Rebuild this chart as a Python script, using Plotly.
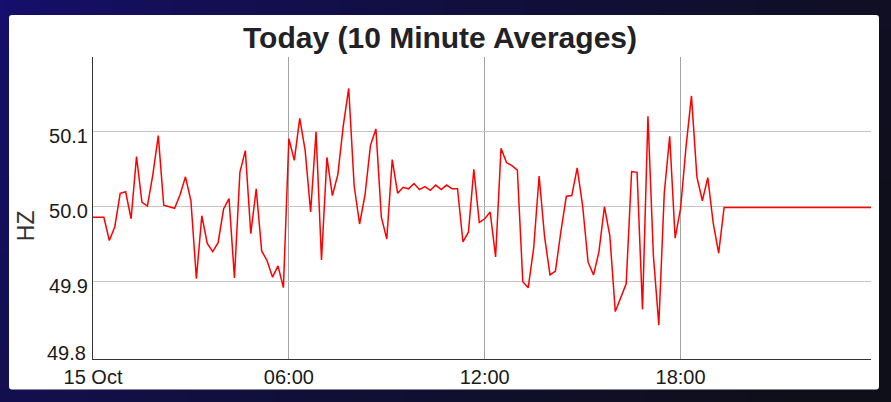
import plotly.graph_objects as go
import pandas as pd

# ---- data (10-minute averages, 15 Oct) ----
start_time = "2023-10-15 00:00"
n_points = 144
hz_values = [
    49.986, 49.986, 49.986, 49.955, 49.973, 50.018, 50.020, 49.984, 50.067, 50.006,
    50.001, 50.043, 50.095, 50.002, 50.000, 49.998, 50.016, 50.040, 50.008, 49.904,
    49.988, 49.951, 49.940, 49.952, 49.997, 50.011, 49.905, 50.046, 50.075, 49.964,
    50.024, 49.941, 49.928, 49.906, 49.921, 49.892, 50.091, 50.062, 50.118, 50.075,
    49.993, 50.100, 49.929, 50.066, 50.015, 50.043, 50.108, 50.158, 50.028, 49.977,
    50.016, 50.082, 50.104, 49.986, 49.957, 50.063, 50.018, 50.026, 50.024, 50.031,
    50.023, 50.027, 50.022, 50.029, 50.023, 50.029, 50.024, 50.024, 49.953, 49.966,
    50.050, 49.979, 49.984, 49.993, 49.933, 50.078, 50.059, 50.055, 50.049, 49.900,
    49.892, 49.945, 50.041, 49.960, 49.909, 49.914, 49.967, 50.014, 50.015, 50.052,
    50.001, 49.926, 49.909, 49.940, 50.000, 49.961, 49.860, 49.878, 49.897, 50.047,
    50.046, 49.863, 50.121, 49.935, 49.842, 50.018, 50.094, 49.958, 49.998, 50.080,
    50.148, 50.040, 50.008, 50.039, 49.978, 49.938, 49.999, 49.999, 49.999, 49.999,
    49.999, 49.999, 49.999, 49.999, 49.999, 49.999, 49.999, 49.999, 49.999, 49.999,
    49.999, 49.999, 49.999, 49.999, 49.999, 49.999, 49.999, 49.999, 49.999, 49.999,
    49.999, 49.999, 49.999, 49.999,
]
x_tick_times = ["2023-10-15 00:00", "2023-10-15 06:00", "2023-10-15 12:00", "2023-10-15 18:00"]
x_tick_labels = ["15 Oct", "06:00", "12:00", "18:00"]
y_tick_values = [49.9, 50.0, 50.1]
y_tick_labels = ["49.9", "50.0", "50.1"]
y_bottom_label = "49.8"
title_text = "Today (10 Minute Averages)"
y_title = "HZ"

times = pd.date_range(start_time, periods=n_points, freq="10min")

# ---- layout geometry (pixels) ----
W, H = 891, 402
ML, MR, MT, MB = 93, 20, 57, 43
PW = W - ML - MR
PH = H - MT - MB


def px_x(px):
    return (px - ML) / PW


def px_y(py):
    return (H - MB - py) / PH


FONT = "Liberation Sans, Arial, sans-serif"

fig = go.Figure()
fig.add_trace(go.Scatter(
    x=times, y=hz_values, mode="lines",
    line=dict(color="#ff0000", width=1.5),
    hoverinfo="x+y", showlegend=False,
))

# ---- gradient background built from strips ----
C0 = (21, 15, 112)
C1 = (15, 15, 26)


def grad_color(px, py):
    s = 0.85 * px / W + 0.25 * py / H
    s = max(0.0, min(1.0, s)) ** 0.7
    r = C0[0] + (C1[0] - C0[0]) * s
    g = C0[1] + (C1[1] - C0[1]) * s
    b = C0[2] + (C1[2] - C0[2]) * s
    return "rgb(%d,%d,%d)" % (round(r), round(g), round(b))


shapes = []


def add_rect(x0, y0, x1, y1, color):
    shapes.append(dict(
        type="rect", xref="paper", yref="paper", layer="below",
        x0=px_x(x0), x1=px_x(x1), y0=px_y(y1), y1=px_y(y0),
        fillcolor=color, line=dict(width=0),
    ))


step = 6
for xs in range(-2, W + 2, step):
    add_rect(xs, -2, xs + step + 0.8, 17, grad_color(xs + step / 2, 7))
    add_rect(xs, 387, xs + step + 0.8, H + 2, grad_color(xs + step / 2, 396))
vstep = 15
for ys in range(14, 392, vstep):
    add_rect(-2, ys, 11, ys + vstep + 0.8, grad_color(4, ys + vstep / 2))
    add_rect(877, ys, W + 2, ys + vstep + 0.8, grad_color(885, ys + vstep / 2))

# ---- white rounded card ----
cx0, cx1, cy0, cy1, r = 9, 879, 15, 389.5, 3


def P(px, py):
    return "%.6f,%.6f" % (px_x(px), px_y(py))


card_path = (
    "M " + P(cx0 + r, cy0) + " L " + P(cx1 - r, cy0) +
    " Q " + P(cx1, cy0) + " " + P(cx1, cy0 + r) +
    " L " + P(cx1, cy1 - r) +
    " Q " + P(cx1, cy1) + " " + P(cx1 - r, cy1) +
    " L " + P(cx0 + r, cy1) +
    " Q " + P(cx0, cy1) + " " + P(cx0, cy1 - r) +
    " L " + P(cx0, cy0 + r) +
    " Q " + P(cx0, cy0) + " " + P(cx0 + r, cy0) + " Z"
)
shapes.append(dict(type="path", xref="paper", yref="paper", layer="below",
                   path=card_path, fillcolor="#ffffff", line=dict(width=0)))

annotations = [
    dict(text=y_bottom_label, xref="paper", yref="paper",
         x=px_x(87.5), y=px_y(352.7), xanchor="right", yanchor="middle",
         showarrow=False, font=dict(family=FONT, size=20, color="#1a1a1a")),
    dict(text=y_title, xref="paper", yref="paper",
         x=px_x(26.2), y=px_y(226), xanchor="center", yanchor="middle",
         textangle=-90, showarrow=False,
         font=dict(family=FONT, size=23, color="#333333")),
]

fig.update_layout(
    width=W, height=H,
    margin=dict(l=ML, r=MR, t=MT, b=MB, pad=0),
    paper_bgcolor="rgb(17,15,60)",
    plot_bgcolor="rgba(0,0,0,0)",
    shapes=shapes,
    annotations=annotations,
    title=dict(text=title_text, x=440 / W, xref="container", xanchor="center",
               y=1 - 37 / H, yref="container", yanchor="middle",
               font=dict(family=FONT, size=30, color="#222226", weight="bold")),
    xaxis=dict(
        type="date",
        range=[times[0], times[-1]],
        tickvals=x_tick_times, ticktext=x_tick_labels,
        showgrid=True, gridcolor="#a3a3a3", gridwidth=1,
        showline=True, linecolor="#333333", linewidth=1,
        ticks="", zeroline=False,
        tickfont=dict(family=FONT, size=20, color="#1a1a1a"),
    ),
    yaxis=dict(
        range=[49.7967, 50.2],
        tickvals=y_tick_values, ticktext=y_tick_labels,
        showgrid=True, gridcolor="#c6c6c6", gridwidth=1,
        showline=True, linecolor="#333333", linewidth=1,
        ticks="", zeroline=False,
        ticklabelshift=4,
        tickfont=dict(family=FONT, size=20, color="#1a1a1a"),
    ),
    hovermode="closest",
)

fig.write_html(
    "out.html",
    config={"displayModeBar": False},
    post_script="document.body.style.margin='0';document.body.style.overflow='hidden';",
)
